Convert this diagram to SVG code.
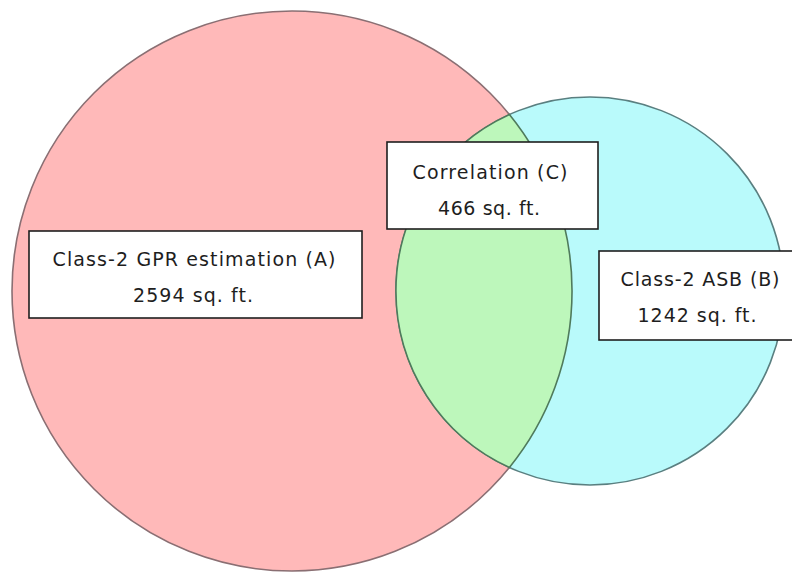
<svg xmlns="http://www.w3.org/2000/svg" width="792" height="575" viewBox="0 0 792 575">
  <style>
    .box { fill: #ffffff; stroke: #1e1e1e; stroke-width: 1.6; }
    .lbl { font-family: "DejaVu Sans", Verdana, sans-serif; font-size: 19px; fill: #1e1e1e; text-anchor: middle; }
  </style>
  <rect width="792" height="575" fill="#ffffff"/>

  <!-- Venn sets -->
  <g id="set-a">
    <circle cx="292" cy="291" r="280" fill="#ffb9b9" stroke="#8a6f73" stroke-width="1.6"/>
  </g>
  <g id="set-b">
    <circle cx="590" cy="291" r="194" fill="#b9fafb" stroke="#5a7f80" stroke-width="1.6"/>
  </g>
  <g id="set-c">
    <path d="M509.4 114.5 A194 194 0 0 0 509.4 467.5 A280 280 0 0 0 509.4 114.5 Z" fill="#bdf7bb" stroke="#4f7a5c" stroke-width="1.6"/>
  </g>

  <!-- Labels -->
  <g id="label-a">
    <rect class="box" x="29" y="231" width="333" height="87"/>
    <text class="lbl" x="194" y="266" textLength="283" lengthAdjust="spacing">Class-2 GPR estimation (A)</text>
    <text class="lbl" x="193" y="302" textLength="120" lengthAdjust="spacing">2594 sq. ft.</text>
  </g>
  <g id="label-c">
    <rect class="box" x="387" y="142" width="211" height="87"/>
    <text class="lbl" x="490" y="179" textLength="155" lengthAdjust="spacing">Correlation (C)</text>
    <text class="lbl" x="489" y="215" textLength="102" lengthAdjust="spacing">466 sq. ft.</text>
  </g>
  <g id="label-b">
    <rect class="box" x="599" y="251" width="210" height="89"/>
    <text class="lbl" x="700" y="286" textLength="159" lengthAdjust="spacing">Class-2 ASB (B)</text>
    <text class="lbl" x="697" y="322" textLength="119" lengthAdjust="spacing">1242 sq. ft.</text>
  </g>
</svg>
